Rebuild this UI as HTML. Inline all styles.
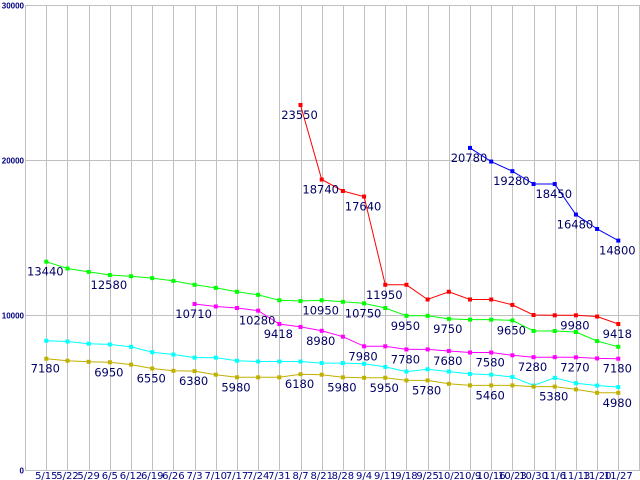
<!DOCTYPE html>
<html><head><meta charset="utf-8"><style>
body{margin:0;background:#fff;}
svg{display:block;font-family:"DejaVu Sans","Liberation Sans",sans-serif;}
</style></head><body>
<svg id="chart" width="640" height="480" xmlns="http://www.w3.org/2000/svg"></svg>
<script>
const categories=["5/15","5/22","5/29","6/5","6/12","6/19","6/26","7/3","7/10","7/17","7/24","7/31","8/7","8/21","8/28","9/4","9/11","9/18","9/25","10/2","10/9","10/16","10/23","10/30","11/6","11/13","11/20","11/27"];
const yTicks=[0,10000,20000,30000];
const greenValues=[13440,13000,12780,12580,12500,12380,12200,11950,11750,11500,11300,10950,10900,10950,10850,10750,10450,9950,9950,9750,9700,9700,9650,8970,8970,8900,8320,7950];
const redValues=[null,null,null,null,null,null,null,null,null,null,null,null,23550,18740,18000,17640,11950,11950,11000,11500,11000,11000,10650,10000,9980,9980,9900,9418];
const blueValues=[null,null,null,null,null,null,null,null,null,null,null,null,null,null,null,null,null,null,null,null,20780,19900,19280,18450,18450,16480,15550,14800];
const magentaValues=[null,null,null,null,null,null,null,10710,10550,10450,10280,9418,9230,8980,8600,7980,7980,7780,7780,7680,7580,7580,7400,7280,7280,7270,7200,7180];
const cyanValues=[8340,8290,8150,8100,7950,7600,7450,7250,7250,7050,7000,7000,7000,6900,6900,6850,6650,6350,6500,6350,6200,6150,6000,5450,5950,5600,5450,5350];
const oliveValues=[7180,7050,6980,6950,6800,6550,6400,6380,6150,5980,5980,5980,6180,6150,5980,5950,5950,5780,5780,5560,5460,5460,5460,5380,5380,5200,4980,4980];
const greenLabels=[0,3,13,15,17,19,22];
const redLabels=[12,13,15,16,25,27];
const blueLabels=[20,22,24,25,27];
const magentaLabels=[7,10,11,13,15,17,19,21,23,25,27];
const cyanLabels=[];
const oliveLabels=[0,3,5,7,9,12,14,16,18,21,24,27];

const svg=document.getElementById('chart');
const NS='http://www.w3.org/2000/svg';
const x0=46.3,dx=572/27,yBase=470,yTop=5,yMax=30000;
const xs=i=>x0+i*dx;
const ys=v=>yBase-(v/yMax)*(yBase-yTop);
function mk(t,a){const e=document.createElementNS(NS,t);for(const k in a)e.setAttribute(k,a[k]);svg.appendChild(e);return e;}

let g=mk('line',{x1:25.5,y1:yTop,x2:25.5,y2:yBase,stroke:'#c0c0c0'});


g=mk('line',{x1:639.5,y1:yTop,x2:639.5,y2:yBase,stroke:'#c0c0c0'});


categories.forEach((c,i)=>{
  const x=Math.round(xs(i))+0.5;
  const l=mk('line',{x1:x,y1:yTop,x2:x,y2:yBase,stroke:'#c0c0c0'});
  
  
  const t=mk('text',{x:xs(i),y:yBase+9,'text-anchor':'middle','font-size':'10',fill:'#000080'});
  t.textContent=c;
  
  
});
yTicks.forEach(v=>{
  const y=Math.round(ys(v))+0.5;
  const l=mk('line',{x1:25,y1:y,x2:640,y2:y,stroke:'#c0c0c0'});
  
  
  const t=mk('text',{x:24,y:y+3,'text-anchor':'end','font-size':'8','font-weight':'bold',fill:'#000080','font-family':'Liberation Sans, sans-serif'});
  t.textContent=String(v);
  
  
});
function series(vals,labels,color,name){
  let d='';
  vals.forEach((v,i)=>{if(v==null)return;d+=(d?'L':'M')+xs(i).toFixed(1)+' '+ys(v).toFixed(1);});
  const p=mk('path',{d:d,fill:'none',stroke:color,'stroke-width':1});
  
  
  vals.forEach((v,i)=>{if(v==null)return;
    const r=mk('rect',{x:xs(i)-2,y:ys(v)-2,width:4,height:4,fill:color});
    
    
  });
  labels.forEach(i=>{const v=vals[i];
    const t=mk('text',{x:xs(i)-1,y:ys(v)+14,'text-anchor':'middle','font-size':'11.5',fill:'#000066'});
    t.textContent=String(v);
    
    
  });
}
series(cyanValues,cyanLabels,'#00ffff','cyan-series');
series(oliveValues,oliveLabels,'#c0b000','olive-series');
series(magentaValues,magentaLabels,'#ff00ff','magenta-series');
series(greenValues,greenLabels,'#00ff00','green-series');
series(redValues,redLabels,'#ff0000','red-series');
series(blueValues,blueLabels,'#0000ff','blue-series');
</script>
</body></html>
